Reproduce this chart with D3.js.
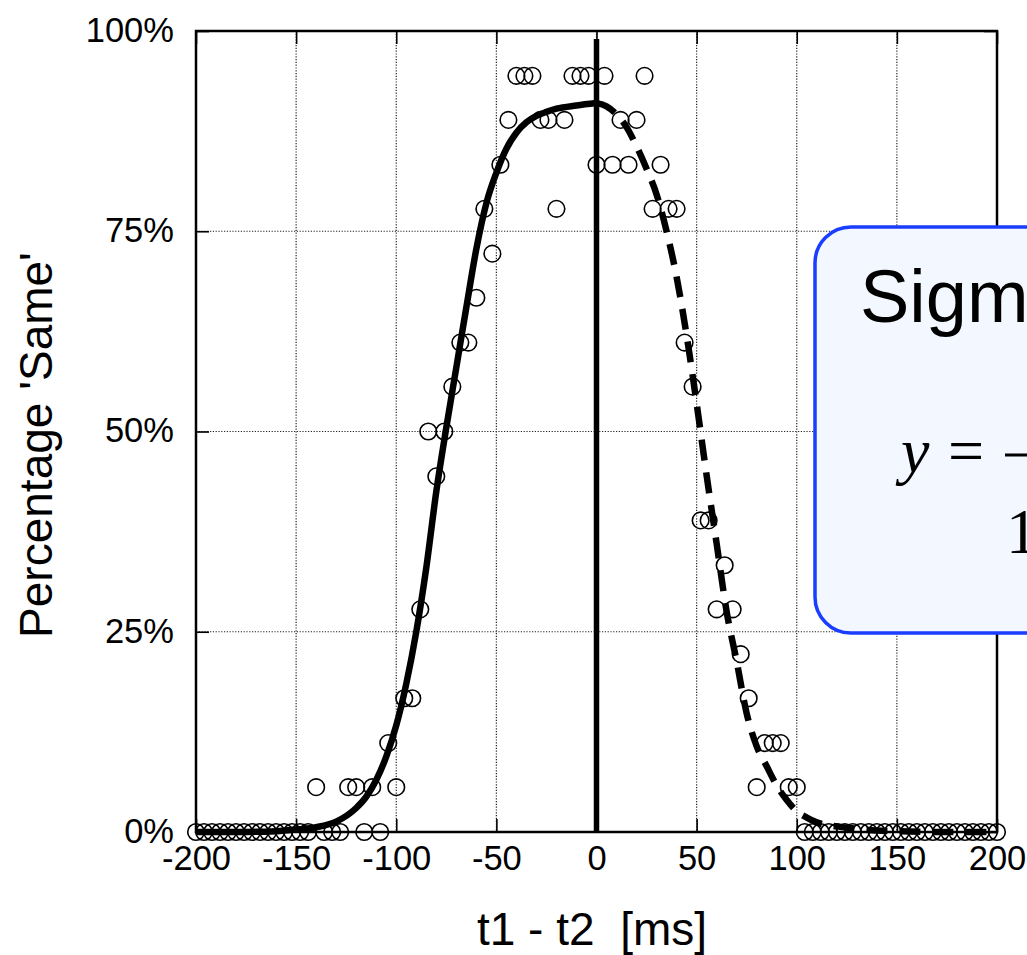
<!DOCTYPE html>
<html>
<head>
<meta charset="utf-8">
<script src="https://cdn.jsdelivr.net/npm/d3@7/dist/d3.min.js"></script>
<style>
  html, body { margin: 0; padding: 0; background: #fff; overflow: hidden; }
  svg { display: block; }
</style>
</head>
<body>
<svg id="chart" width="1027" height="955"></svg>
<script>
// ---- data ----
const xTicks = [-200, -150, -100, -50, 0, 50, 100, 150, 200];
const xTickLabels = ["-200", "-150", "-100", "-50", "0", "50", "100", "150", "200"];
const yTicks = [0, 25, 50, 75, 100];
const yTickLabels = ["0%", "25%", "50%", "75%", "100%"];

// observed points: t1 - t2 [ms]
const obsX = [-200, -196, -192, -188, -184, -180, -176, -172, -168, -164, -160, -156, -152, -148, -144,
  -140, -136, -132, -128, -124, -120, -116, -112, -108, -104, -100, -96, -92, -88, -84, -80, -76, -72,
  -68, -64, -60, -56, -52, -48, -44, -40, -36, -32, -28, -24, -20, -16, -12, -8, -4, 0, 4, 8, 12, 16,
  20, 24, 28, 32, 36, 40, 44, 48, 52, 56, 60, 64, 68, 72, 76, 80, 84, 88, 92, 96, 100, 104, 108, 112,
  116, 120, 124, 128, 132, 136, 140, 144, 148, 152, 156, 160, 164, 168, 172, 176, 180, 184, 188, 192,
  196, 200];
// observed percentage 'Same'
const obsY = [0, 0, 0, 0, 0, 0, 0, 0, 0, 0, 0, 0, 0, 0, 0,
  5.6, 0, 0, 0, 5.6, 5.6, 0, 5.6, 0, 11.1, 5.6, 16.7, 16.7, 27.8, 50.0, 44.4, 50.0, 55.6,
  61.1, 61.1, 66.7, 77.8, 72.2, 83.3, 88.9, 94.4, 94.4, 94.4, 88.9, 88.9, 77.8, 88.9, 94.4, 94.4, 94.4, 83.3, 94.4, 83.3, 88.9, 83.3,
  88.9, 94.4, 77.8, 83.3, 77.8, 77.8, 61.1, 55.6, 38.9, 38.9, 27.8, 33.3, 27.8, 22.2, 16.7, 5.6, 11.1, 11.1, 11.1, 5.6, 5.6, 0, 0, 0,
  0, 0, 0, 0, 0, 0, 0, 0, 0, 0, 0, 0, 0, 0, 0, 0, 0, 0, 0, 0,
  0, 0];

// rising sigmoid fit (solid)
const riseX = [-200, -180, -160, -150, -140, -130, -120, -115, -110, -105, -100, -95, -90, -85, -80, -75, -70, -65, -60, -55, -50, -45, -40, -35, -30, -25, -20, -10, 0];
const riseY = [0, 0, 0.1, 0.3, 0.6, 1.3, 3.0, 4.4, 6.5, 9.4, 13.3, 18.5, 25.0, 33.0, 42.5, 50.5, 58.0, 65.5, 72.8, 78.5, 82.3, 85.3, 87.3, 88.6, 89.4, 89.9, 90.3, 90.7, 91.0];

// falling sigmoid fit (dashed)
const fallX = [0, 5, 10, 15, 20, 25, 30, 35, 40, 45, 50, 55, 60, 65, 70, 75, 80, 85, 90, 95, 100, 105, 110, 120, 130, 140, 150, 170, 200];
const fallY = [91.0, 90.6, 89.6, 88.0, 85.6, 82.8, 79.6, 75.0, 69.3, 62.0, 53.5, 44.5, 36.0, 27.5, 21.3, 14.8, 10.7, 8.2, 5.8, 4.0, 2.6, 1.8, 1.2, 0.7, 0.4, 0.2, 0.1, 0, 0];

// vertical reference line at t1 - t2 = 0
const refLineX = 0;
const refLineTop = 99;

// ---- drawing ----
const svg = d3.select("#chart");
const W = 1027, H = 955;
svg.append("rect").attr("width", W).attr("height", H).attr("fill", "#fff");

const x = d3.scaleLinear().domain([-200, 200]).range([196, 997]);
const y = d3.scaleLinear().domain([0, 100]).range([832, 31]);

const font = "Helvetica, 'Liberation Sans', Arial, sans-serif";

// grid (dotted)
const grid = svg.append("g");
grid.selectAll("line.gx").data(xTicks.filter(d => d > -200 && d < 200)).join("line")
  .attr("x1", d => x(d)).attr("x2", d => x(d)).attr("y1", y(100)).attr("y2", y(0))
  .attr("stroke", "#222").attr("stroke-width", 1.2).attr("stroke-dasharray", "1.2,1.6");
grid.selectAll("line.gy").data(yTicks.filter(d => d > 0 && d < 100)).join("line")
  .attr("x1", x(-200)).attr("x2", x(200)).attr("y1", d => y(d)).attr("y2", d => y(d))
  .attr("stroke", "#222").attr("stroke-width", 1.2).attr("stroke-dasharray", "1.2,1.6");

// axes with inner ticks on all four sides
const tickLen = 13;
const axB = d3.axisBottom(x).tickValues(xTicks).tickSizeInner(-tickLen).tickSizeOuter(0).tickFormat((d, i) => xTickLabels[i]);
const axT = d3.axisTop(x).tickValues(xTicks).tickSizeInner(-tickLen).tickSizeOuter(0).tickFormat("");
const axL = d3.axisLeft(y).tickValues(yTicks).tickSizeInner(-tickLen).tickSizeOuter(0).tickFormat((d, i) => yTickLabels[i]);
const axR = d3.axisRight(y).tickValues(yTicks).tickSizeInner(-tickLen).tickSizeOuter(0).tickFormat("");

function styleAxis(g) {
  g.select(".domain").remove();
  g.selectAll(".tick line").attr("stroke", "#000").attr("stroke-width", 1.6);
  g.selectAll(".tick text").attr("fill", "#000").attr("font-family", font).attr("font-size", 34.5);
}
const gB = svg.append("g").attr("transform", `translate(0,${y(0)})`).call(axB).call(styleAxis);
gB.selectAll(".tick text").attr("y", 38).attr("dy", 0);
svg.append("g").attr("transform", `translate(0,${y(100)})`).call(axT).call(styleAxis);
const gL = svg.append("g").attr("transform", `translate(${x(-200)},0)`).call(axL).call(styleAxis);
gL.selectAll(".tick text").attr("x", -22).attr("dy", "0.3em");
svg.append("g").attr("transform", `translate(${x(200)},0)`).call(axR).call(styleAxis);

// frame
svg.append("rect")
  .attr("x", x(-200)).attr("y", y(100))
  .attr("width", x(200) - x(-200)).attr("height", y(0) - y(100))
  .attr("fill", "none").attr("stroke", "#000").attr("stroke-width", 2.5);

// fitted curves
const line = d3.line().x(d => x(d[0])).y(d => y(d[1])).curve(d3.curveMonotoneX);
svg.append("path").datum(riseX.map((v, i) => [v, riseY[i]]))
  .attr("d", line).attr("fill", "none").attr("stroke", "#000")
  .attr("stroke-width", 6.5).attr("stroke-linejoin", "round");
svg.append("path").datum(fallX.map((v, i) => [v, fallY[i]]))
  .attr("d", line).attr("fill", "none").attr("stroke", "#000")
  .attr("stroke-width", 6.5).attr("stroke-dasharray", "21,12");

// vertical line at 0
svg.append("line")
  .attr("x1", x(refLineX)).attr("x2", x(refLineX))
  .attr("y1", y(refLineTop)).attr("y2", y(0))
  .attr("stroke", "#000").attr("stroke-width", 5.5);

// observed points
svg.append("g").selectAll("circle").data(obsX.map((v, i) => [v, obsY[i]])).join("circle")
  .attr("cx", d => x(d[0])).attr("cy", d => y(d[1])).attr("r", 8.3)
  .attr("fill", "none").attr("stroke", "#000").attr("stroke-width", 1.6);

// axis titles
svg.append("text")
  .attr("x", 592).attr("y", 945).attr("text-anchor", "middle")
  .attr("font-family", font).attr("font-size", 46).attr("fill", "#000")
  .attr("xml:space", "preserve").style("white-space", "pre")
  .text("t1 - t2  [ms]");
svg.append("text")
  .attr("transform", "translate(52,445) rotate(-90)").attr("text-anchor", "middle")
  .attr("font-family", font).attr("font-size", 46).attr("fill", "#000")
  .text("Percentage 'Same'");

// annotation box (extends beyond the right edge, as in the reference)
const note = svg.append("g");
note.append("rect")
  .attr("x", 815).attr("y", 227).attr("width", 420).attr("height", 406).attr("rx", 36)
  .attr("fill", "#f3f7ff").attr("stroke", "#1a3dff").attr("stroke-width", 3.5);
note.append("text")
  .attr("x", 860).attr("y", 322)
  .attr("font-family", font).attr("font-size", 74).attr("fill", "#000")
  .text("Sigmoid");
const times = "'Times New Roman', 'Liberation Serif', Times, serif";
note.append("text")
  .attr("x", 901).attr("y", 472)
  .attr("font-family", times).attr("font-size", 64).attr("font-style", "italic").attr("fill", "#000")
  .text("y");
note.append("text")
  .attr("x", 948).attr("y", 472)
  .attr("font-family", times).attr("font-size", 64).attr("fill", "#000")
  .text("=");
note.append("line")
  .attr("x1", 1005).attr("x2", 1220).attr("y1", 455).attr("y2", 455)
  .attr("stroke", "#000").attr("stroke-width", 3);
note.append("text")
  .attr("x", 1110).attr("y", 430).attr("text-anchor", "middle")
  .attr("font-family", times).attr("font-size", 64).attr("font-style", "italic").attr("fill", "#000")
  .text("a");
note.append("text")
  .attr("x", 1006).attr("y", 553)
  .attr("font-family", times).attr("font-size", 64).attr("fill", "#000")
  .text("1 + e");
</script>
</body>
</html>
